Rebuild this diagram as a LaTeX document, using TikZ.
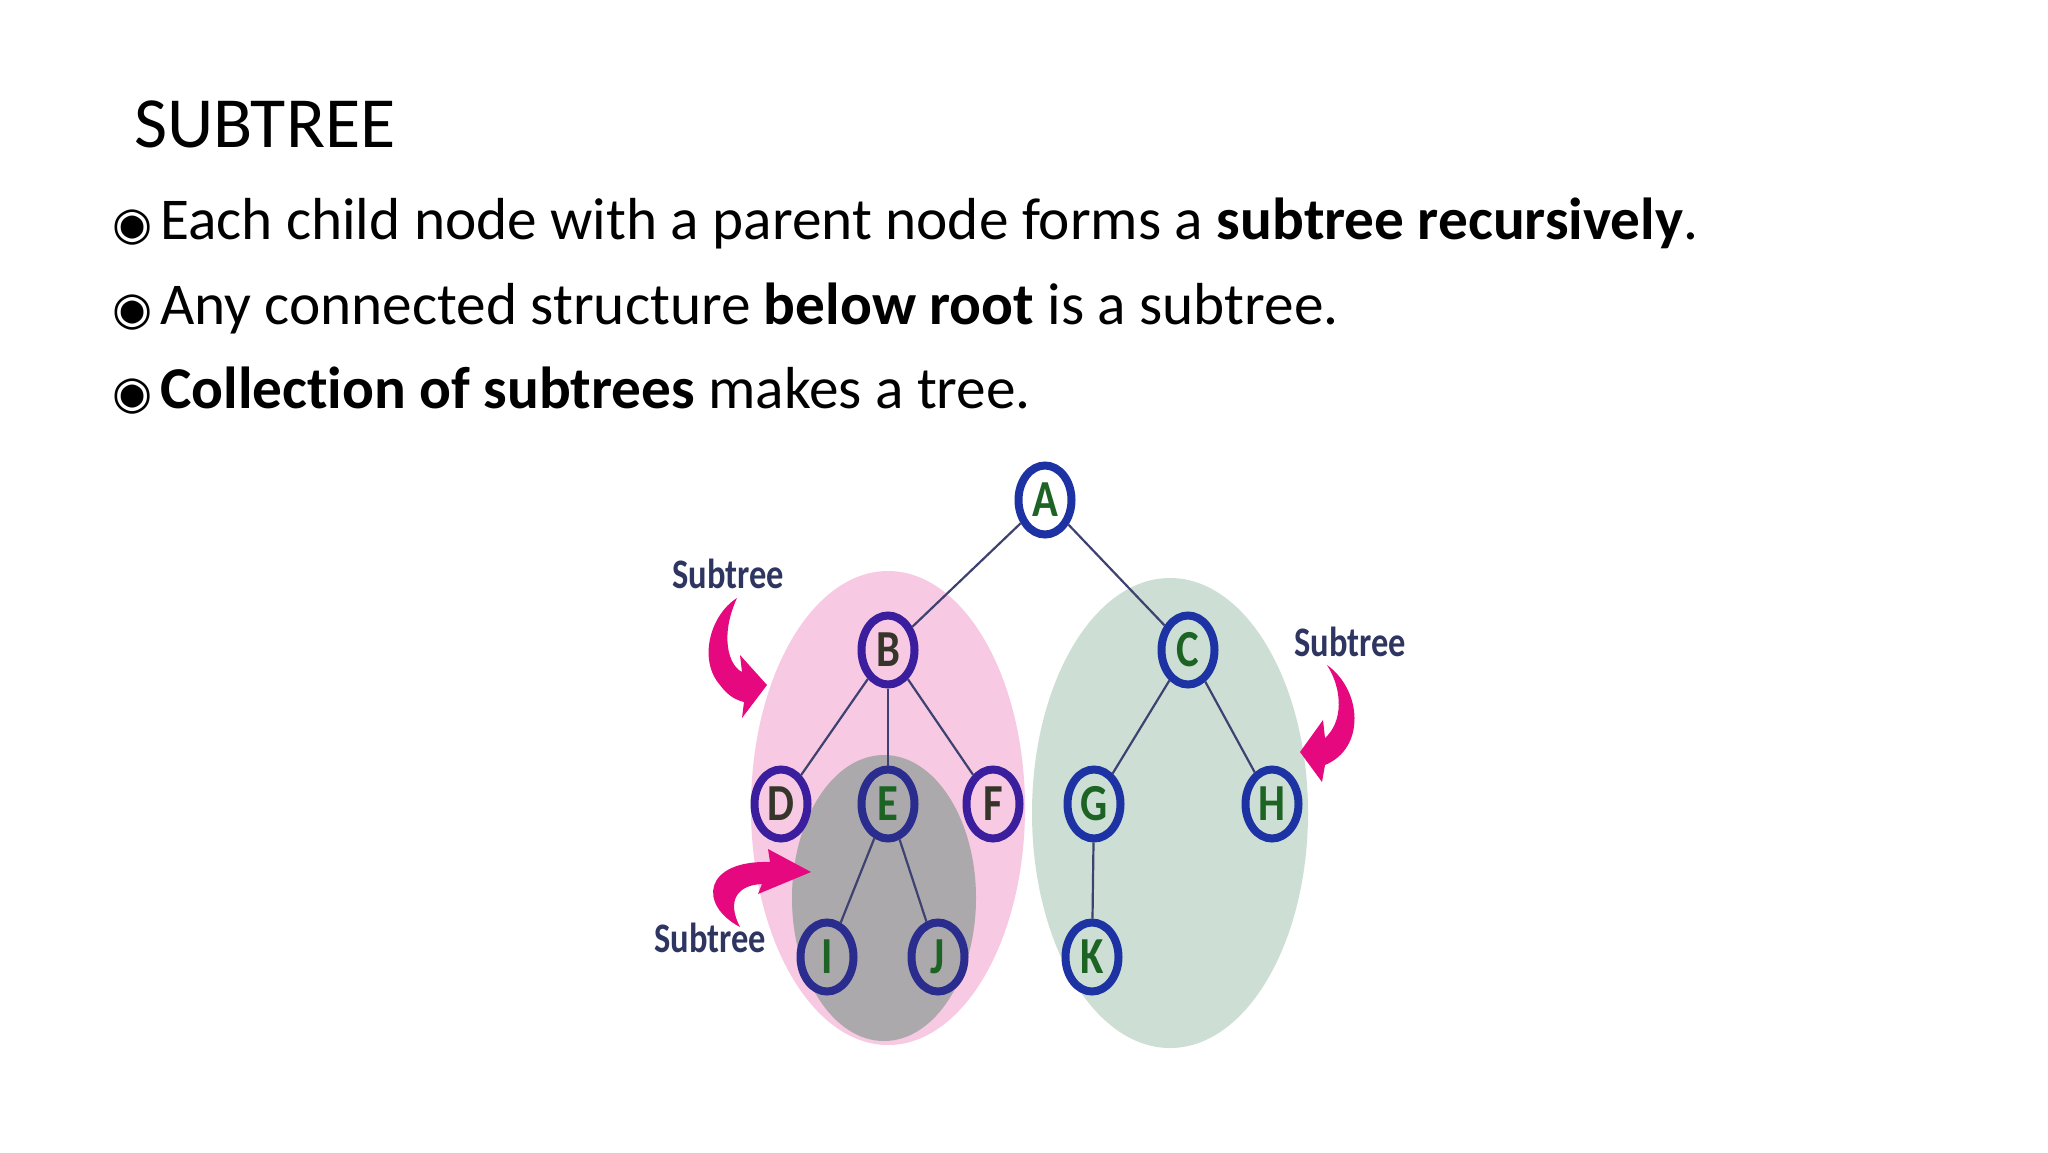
\documentclass[tikz,border=0pt]{standalone}
\usepackage{fontspec}
\setmainfont[Ligatures=NoCommon]{Carlito}
\newfontfamily\symfont{DejaVu Sans}
\newfontfamily\lblfont[FakeStretch=0.82]{Carlito}
\usetikzlibrary{shapes.geometric}
\definecolor{pinkfill}{HTML}{F8C9E3}
\definecolor{grayfill}{HTML}{ABA9AC}
\definecolor{greenfill}{HTML}{CDDFD4}
\definecolor{ringblue}{HTML}{1D33A3}
\definecolor{ringpurple}{HTML}{3A1E9E}
\definecolor{ringnavy}{HTML}{2A2C8E}
\definecolor{lettergreen}{HTML}{1C6324}
\definecolor{letterdark}{HTML}{35352A}
\definecolor{edgecol}{HTML}{3E4270}
\definecolor{labelnavy}{HTML}{2E3561}
\definecolor{arrowmag}{HTML}{E6087F}
\tikzset{
  treenode/.style={ellipse, draw=ringblue, line width=8pt, minimum width=53pt, minimum height=69pt, inner sep=0pt,
    font={\lblfont\bfseries\fontsize{52}{52}\selectfont}, text=lettergreen},
  purplenode/.style={treenode, draw=ringpurple, text=letterdark},
  navynode/.style={treenode, draw=ringnavy},
  treeline/.style={draw=edgecol, line width=2.2pt},
  subtreelbl/.style={font={\lblfont\bfseries\fontsize{42}{42}\selectfont}, text=labelnavy, inner sep=0pt},
  magarrow/.style={fill=arrowmag, draw=none},
  bodytext/.style={anchor=base west, inner sep=0pt, font={\fontsize{59.3}{70}\selectfont}},
  bulletsym/.style={anchor=base, inner sep=0pt, font={\symfont\fontsize{46}{46}\selectfont}}
}
\begin{document}
\begin{tikzpicture}[x=1pt,y=-1pt]
\useasboundingbox (0,0) rectangle (2048,1152);
\fill[white] (0,0) rectangle (2048,1152);

% title and bullets
\node[anchor=base west, inner sep=0pt, font={\fontsize{72}{86}\selectfont}] (title) at (134,147) {SUBTREE};
\node[bulletsym] (b1) at (133,239) {◉};
\node[bodytext] (l1) at (160,239) {Each child node with a parent node forms a \textbf{subtree recursively}.};
\node[bulletsym] (b2) at (133,324) {◉};
\node[bodytext] (l2) at (160,324) {Any connected structure \textbf{below root} is a subtree.};
\node[bulletsym] (b3) at (133,408) {◉};
\node[bodytext] (l3) at (160,408) {\textbf{Collection of subtrees} makes a tree.};

% subtree regions
\fill[pinkfill] (888,808) ellipse [x radius=137pt, y radius=237pt];
\fill[greenfill] (1170,813) ellipse [x radius=138pt, y radius=235pt];
\fill[grayfill] (884,898) ellipse [x radius=92pt, y radius=143pt];

% nodes
\node[treenode] (A) at (1045,500) {A};
\node[purplenode] (B) at (888,650) {B};
\node[treenode] (C) at (1188,650) {C};
\node[purplenode] (D) at (781,804) {D};
\node[navynode] (E) at (888,804) {E};
\node[purplenode] (F) at (993,804) {F};
\node[treenode] (G) at (1094,804) {G};
\node[treenode] (H) at (1272,804) {H};
\node[navynode] (I) at (827,957) {I};
\node[navynode] (J) at (938,957) {J};
\node[treenode] (K) at (1092,957) {K};

% edges
\draw[treeline] (A) -- (B);
\draw[treeline] (A) -- (C);
\draw[treeline] (B) -- (D);
\draw[treeline] (B) -- (E);
\draw[treeline] (B) -- (F);
\draw[treeline] (C) -- (G);
\draw[treeline] (C) -- (H);
\draw[treeline] (E) -- (I);
\draw[treeline] (E) -- (J);
\draw[treeline] (G) -- (K);

% labels
\node[subtreelbl] (s1) at (728,574) {Subtree};
\node[subtreelbl] (s2) at (1350,642) {Subtree};
\node[subtreelbl] (s3) at (710,938) {Subtree};

% curved arrows
\fill[magarrow] (737,598) .. controls (710,615) and (698,660) .. (720,685) .. controls (728,696) and (736,700) .. (744,702) -- (742,718) -- (767,685) -- (740,655) -- (742,672) .. controls (728,665) and (720,635) .. (737,598) -- cycle;
\fill[magarrow] (1327,665) .. controls (1362,690) and (1366,748) .. (1325,765) -- (1322,782) -- (1300,752) -- (1323,720) -- (1325,738) .. controls (1343,722) and (1343,690) .. (1327,665) -- cycle;
\fill[magarrow] (740,927) .. controls (698,905) and (703,860) .. (770,862) -- (768,849) -- (811,872) -- (758,894) -- (762,884) .. controls (738,885) and (726,900) .. (740,927) -- cycle;
\end{tikzpicture}
\end{document}
